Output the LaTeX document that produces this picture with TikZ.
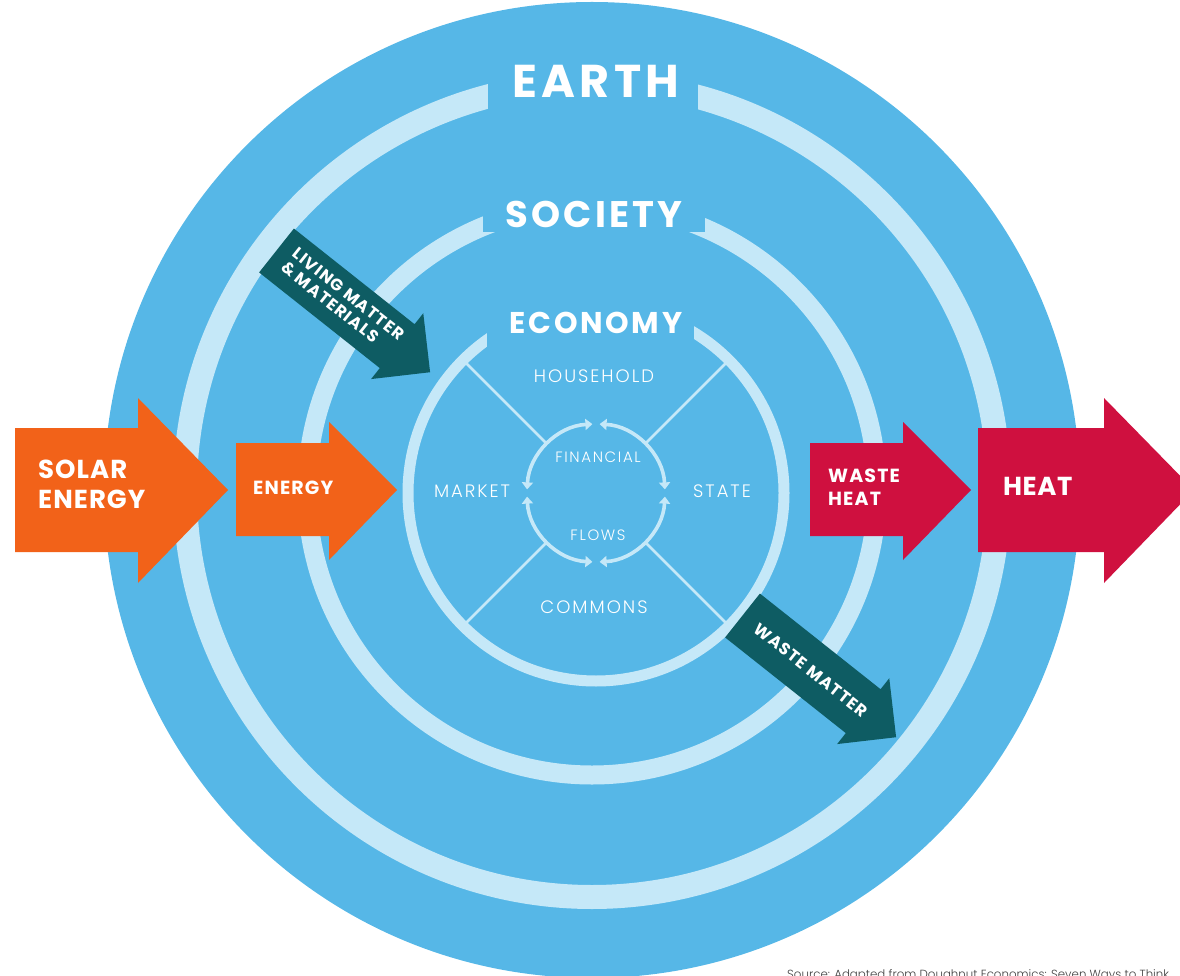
\documentclass[tikz,border=0pt]{standalone}
\usepackage{fontspec}
\setmainfont{Poppins}
\newfontfamily\thinfont{Poppins Light}
\newfontfamily\spacedfont{Poppins}[LetterSpace=9]
\newfontfamily\spacedthin{Poppins Light}[LetterSpace=11]
\usetikzlibrary{arrows.meta}

\definecolor{earthblue}{RGB}{86,183,231}
\definecolor{ringblue}{RGB}{197,232,248}
\definecolor{solarorange}{RGB}{242,98,25}
\definecolor{heatred}{RGB}{207,16,63}
\definecolor{matterteal}{RGB}{14,92,99}

\tikzset{
  title/.style={text=white, inner sep=0pt, anchor=base},
  sector/.style={text=white, inner sep=0pt, anchor=base},
  divider/.style={draw=ringblue, line width=2.6pt},
  flow/.style={draw=ringblue, line width=3.6pt, {Triangle[length=7pt,width=11pt]}-{Triangle[length=7pt,width=11pt]}},
  arrowtext/.style={text=white, inner sep=0pt, align=left, font=\bfseries\addfontfeatures{LetterSpace=6}\fontsize{19}{23}\selectfont}
}

\begin{document}
\begin{tikzpicture}[x=1pt, y=-1pt]
        \useasboundingbox (0,0) rectangle (1180,976);
        \coordinate (earthc) at (592,490);
        \coordinate (econ) at (596,493);

        % Draw the earth disk and its rings
        \fill[earthblue] (earthc) circle (488pt);
        \draw[ringblue, line width=24pt] (earthc) circle (407pt);
        \draw[ringblue, line width=19pt] (earthc) circle (285pt);
        \draw[ringblue, line width=11pt] (econ) circle (188pt);

        % Gaps for the titles
        \fill[earthblue] (488,55) rectangle (698,112);
        \fill[earthblue] (483,185) rectangle (705,232);
        \fill[earthblue] (487,290) rectangle (694,352);

        % Titles
        \node[title, font=\spacedfont\bfseries\fontsize{46}{46}\selectfont] (earth) at (596,98) {EARTH};
        \node[title, font=\spacedfont\bfseries\fontsize{37}{37}\selectfont] (society) at (594,228) {SOCIETY};
        \node[title, font=\spacedfont\bfseries\fontsize{30}{30}\selectfont] (economy) at (596,333) {ECONOMY};

        % Sectors of the economy
        \foreach \a in {45,135,225,315}
            \draw[divider] ([shift={(\a:71pt)}]econ) -- ([shift={(\a:183pt)}]econ);
        \foreach \a in {0,90,180,270}
            \draw[flow] ([shift={(\a+3:69pt)}]econ) arc[start angle=\a+3, end angle=\a+87, radius=69pt];

        \node[sector, font=\spacedthin\fontsize{18}{18}\selectfont] (household) at (594,382) {HOUSEHOLD};
        \node[sector, font=\spacedthin\fontsize{18}{18}\selectfont] (market) at (472,497) {MARKET};
        \node[sector, font=\spacedthin\fontsize{18}{18}\selectfont] (state) at (722,497) {STATE};
        \node[sector, font=\spacedthin\fontsize{18}{18}\selectfont] (commons) at (594,613) {COMMONS};
        \node[sector, font=\spacedthin\fontsize{15}{15}\selectfont] (financial) at (598,462) {FINANCIAL};
        \node[sector, font=\spacedthin\fontsize{15}{15}\selectfont] (flows) at (598,540) {FLOWS};

        % Energy arrows
        \fill[solarorange] (15,428) -- (138,428) -- (138,398) -- (228,490) -- (138,583) -- (138,552) -- (15,552) -- cycle;
        \fill[solarorange] (236,443) -- (329,443) -- (329,422) -- (397,490) -- (329,560) -- (329,536) -- (236,536) -- cycle;
        \fill[heatred] (810,443) -- (903,443) -- (903,422) -- (971,490) -- (903,560) -- (903,536) -- (810,536) -- cycle;
        \fill[heatred] (978,428) -- (1104,428) -- (1104,398) -- (1194,490) -- (1104,583) -- (1104,552) -- (978,552) -- cycle;

        \node[arrowtext, anchor=west, font=\bfseries\addfontfeatures{LetterSpace=4}\fontsize{26}{30}\selectfont] (solar) at (38,484) {SOLAR\\ENERGY};
        \node[arrowtext, anchor=west] (energy) at (253,488) {ENERGY};
        \node[arrowtext, anchor=west] (wasteheat) at (828,487.5) {WASTE\\HEAT};
        \node[arrowtext, anchor=west, font=\bfseries\addfontfeatures{LetterSpace=2}\fontsize{26}{30}\selectfont] (heat) at (1003,486) {HEAT};

        % Matter arrows
        \begin{scope}[shift={(276.5,250.5)}, rotate=-38.4]
            \fill[matterteal] (0,28) -- (154,28) -- (154,42) -- (196,0) -- (154,-42) -- (154,-28) -- (0,-28) -- cycle;
        \end{scope}
        \begin{scope}[shift={(742.5,615.5)}, rotate=-38.4]
            \fill[matterteal] (0,28) -- (154,28) -- (154,42) -- (196,0) -- (154,-42) -- (154,-28) -- (0,-28) -- cycle;
        \end{scope}
        \node[arrowtext, rotate=-38.4, font=\bfseries\addfontfeatures{LetterSpace=7}\fontsize{16.5}{18}\selectfont] (living) at (343,301) {LIVING MATTER\\\& MATERIALS};
        \node[arrowtext, rotate=-38.4, font=\bfseries\addfontfeatures{LetterSpace=7}\fontsize{16.5}{18}\selectfont] (wastematter) at (811,670) {WASTE MATTER};

        % Source line
        \node[anchor=north west, inner sep=0pt, text=black!75, font=\thinfont\fontsize{11.8}{11.8}\selectfont] (source) at (787,969) {Source: Adapted from Doughnut Economics: Seven Ways to Think};
    \end{tikzpicture}
\end{document}
